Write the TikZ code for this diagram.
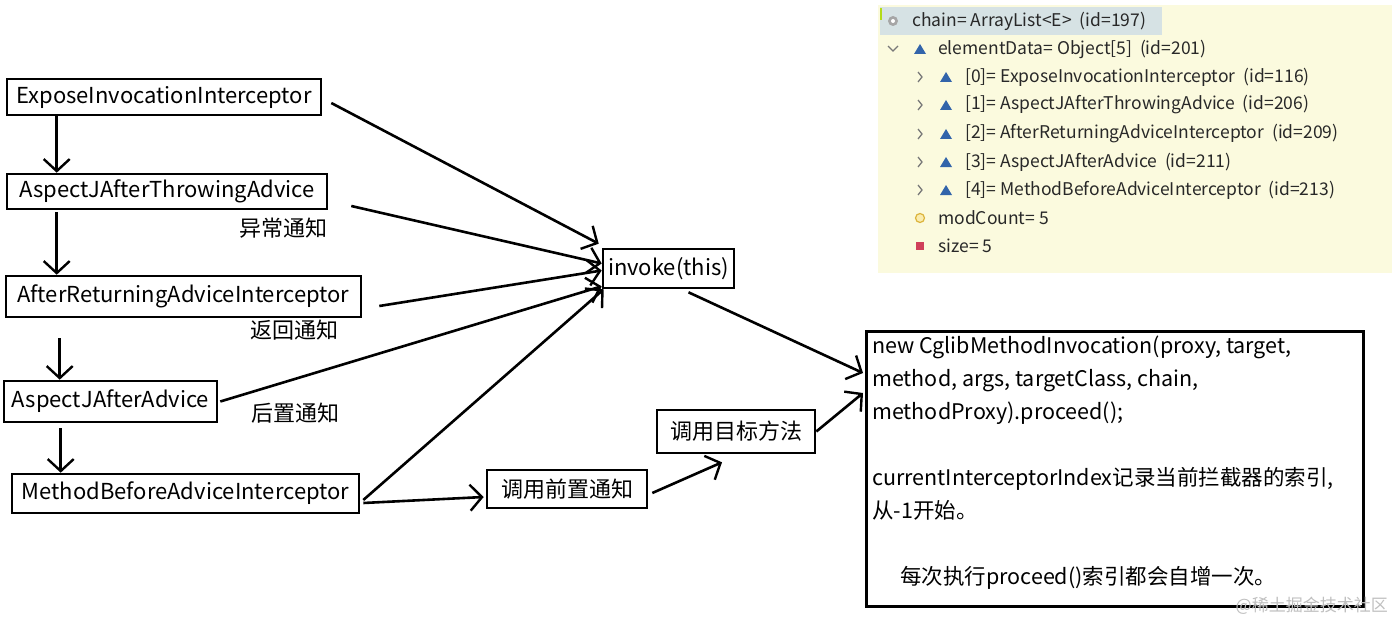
\documentclass[tikz,border=0pt]{standalone}
\usepackage{fontspec}
\setmainfont{Noto Sans CJK SC}
\usetikzlibrary{arrows.meta}

\definecolor{panelbg}{RGB}{251,250,222}
\definecolor{rowsel}{RGB}{214,226,228}
\definecolor{triblue}{RGB}{50,100,170}
\definecolor{chevgray}{RGB}{120,120,120}
\definecolor{dbgtext}{RGB}{40,40,40}
\definecolor{modline}{RGB}{220,180,60}
\definecolor{modfill}{RGB}{250,236,175}
\definecolor{sizered}{RGB}{208,64,90}

\tikzset{
  box/.style={draw, rectangle, line width=2.6pt, inner sep=0pt, font=\fontsize{22}{26}\selectfont},
  arr/.style={line width=2.6pt, -{Straight Barb[length=12pt, width=26pt, line width=2.4pt]}},
  note/.style={font=\fontsize{22}{26}\selectfont},
  dbg/.style={anchor=west, inner sep=0pt, text=dbgtext, font=\fontsize{17.5}{20}\selectfont},
}

\begin{document}
\begin{tikzpicture}[x=1pt, y=-1pt]
\useasboundingbox (0,0) rectangle (1392,623);

% left column
\node (expose) [box, minimum width=314pt, minimum height=36pt] at (164,97) {ExposeInvocationInterceptor};
\node (throwing) [box, minimum width=320pt, minimum height=35pt] at (167,191.5) {AspectJAfterThrowingAdvice};
\node (returning) [box, minimum width=355pt, minimum height=41pt] at (183.5,296.5) {AfterReturningAdviceInterceptor};
\node (after) [box, minimum width=213pt, minimum height=41pt] at (110.5,401.5) {AspectJAfterAdvice};
\node (before) [box, minimum width=347pt, minimum height=39pt] at (185.5,493.5) {MethodBeforeAdviceInterceptor};

\node (throwlbl) [note] at (283,228) {异常通知};
\node (retlbl) [note] at (294,330) {返回通知};
\node (afterlbl) [note] at (295,413) {后置通知};

% middle
\node (invoke) [box, minimum width=131pt, minimum height=39pt] at (668.5,268.5) {invoke(this)};
\node (callbefore) [box, minimum width=160pt, minimum height=38pt] at (567,489) {调用前置通知};
\node (calltarget) [box, minimum width=158pt, minimum height=43pt] at (736,431.5) {调用目标方法};

% right box
\node (cglib) [box, anchor=north west, minimum width=497pt, minimum height=275pt] at (865,330) {};
\node (cglibtext) [anchor=north west, inner sep=0pt, align=left, font=\fontsize{21.5}{33}\selectfont] at ([xshift=7pt,yshift=-6pt]cglib.north west)
  {new CglibMethodInvocation(proxy, target,\\
   method, args, targetClass, chain,\\
   methodProxy).proceed();\\[33pt]
   currentInterceptorIndex记录当前拦截器的索引,\\
   从-1开始。\\[33pt]
   \hspace*{28pt}每次执行proceed()索引都会自增一次。};

\draw[arr] ([xshift=51pt]expose.south west) -- ([xshift=51pt]throwing.north west);
\draw[arr, shorten <=2pt] ([xshift=51pt]throwing.south west) -- ([xshift=52pt]returning.north west);
\draw[arr, shorten <=20pt] ([xshift=55pt]returning.south west) -- ([xshift=57pt]after.north west);
\draw[arr, shorten <=5pt] ([xshift=58pt]after.south west) -- ([xshift=50pt]before.north west);

\draw[arr] ([xshift=9pt,yshift=-6pt]expose.east) -- ([xshift=-3pt,yshift=4pt]invoke.north west);
\draw[arr] ([xshift=23pt,yshift=-14.5pt]throwing.east) -- ([yshift=5pt]invoke.west);
\draw[arr] ([xshift=17pt,yshift=-9.5pt]returning.east) -- ([yshift=-2pt]invoke.west);
\draw[arr] ([xshift=2pt]after.east) -- ([yshift=3pt]invoke.south west);
\draw[arr] ([xshift=3pt,yshift=-6.5pt]before.east) -- ([xshift=2pt]invoke.south west);

\draw[arr] ([xshift=20pt,yshift=-3pt]invoke.south) -- ([xshift=-2pt,yshift=-43pt]cglib.north west);
\draw[arr] ([xshift=3pt,yshift=-9.5pt]before.east) -- ([xshift=-2pt,yshift=-8pt]callbefore.west);
\draw[arr] ([xshift=4pt,yshift=-4pt]callbefore.east) -- ([xshift=-14pt,yshift=-8pt]calltarget.south);
\draw[arr] (calltarget.east) -- ([xshift=-2pt,yshift=-63pt]cglib.north west);

% debugger panel
\fill[panelbg] (878,5) rectangle (1392,273);
\fill[rowsel] (880,7) rectangle (1162,35);
\fill[yellow!70!green] (880,8) rectangle (882,20);

\fill[gray!70] (893,21) circle (5pt);
\fill[white] (893,21) circle (2pt);
\node (chain) [dbg] at (912,21) {chain= ArrayList<E>\ \ (id=197)};

\draw[chevgray, line width=1.3pt] (888,46) -- (893,51) -- (898,46);
\fill[triblue] (914,54) -- (920,44) -- (926,54) -- cycle;
\node (elem) [dbg] at (938,49) {elementData= Object[5]\ \ (id=201)};

\draw[chevgray, line width=1.3pt] (918,72) -- (922,77) -- (918,82);
\fill[triblue] (940,82) -- (946,72) -- (952,82) -- cycle;
\node (elem0) [dbg] at (965,77) {[0]= ExposeInvocationInterceptor\ \ (id=116)};

\draw[chevgray, line width=1.3pt] (918,100) -- (922,105) -- (918,110);
\fill[triblue] (940,110) -- (946,100) -- (952,110) -- cycle;
\node (elem1) [dbg] at (965,105) {[1]= AspectJAfterThrowingAdvice\ \ (id=206)};

\draw[chevgray, line width=1.3pt] (918,129) -- (922,134) -- (918,139);
\fill[triblue] (940,139) -- (946,129) -- (952,139) -- cycle;
\node (elem2) [dbg] at (965,134) {[2]= AfterReturningAdviceInterceptor\ \ (id=209)};

\draw[chevgray, line width=1.3pt] (918,157) -- (922,162) -- (918,167);
\fill[triblue] (940,167) -- (946,157) -- (952,167) -- cycle;
\node (elem3) [dbg] at (965,162) {[3]= AspectJAfterAdvice\ \ (id=211)};

\draw[chevgray, line width=1.3pt] (918,185) -- (922,190) -- (918,195);
\fill[triblue] (940,195) -- (946,185) -- (952,195) -- cycle;
\node (elem4) [dbg] at (965,190) {[4]= MethodBeforeAdviceInterceptor\ \ (id=213)};

\draw[modline, fill=modfill, line width=1.2pt] (920,218) circle (4.5pt);
\node (modcount) [dbg] at (938,218) {modCount= 5};

\fill[sizered] (916,242) rectangle (924,250);
\node (size) [dbg] at (938,246) {size= 5};

\node (mark) [anchor=east, inner sep=0pt, text=gray!50, font=\fontsize{17}{20}\selectfont] at (1388,606) {@稀土掘金技术社区};
\end{tikzpicture}
\end{document}
